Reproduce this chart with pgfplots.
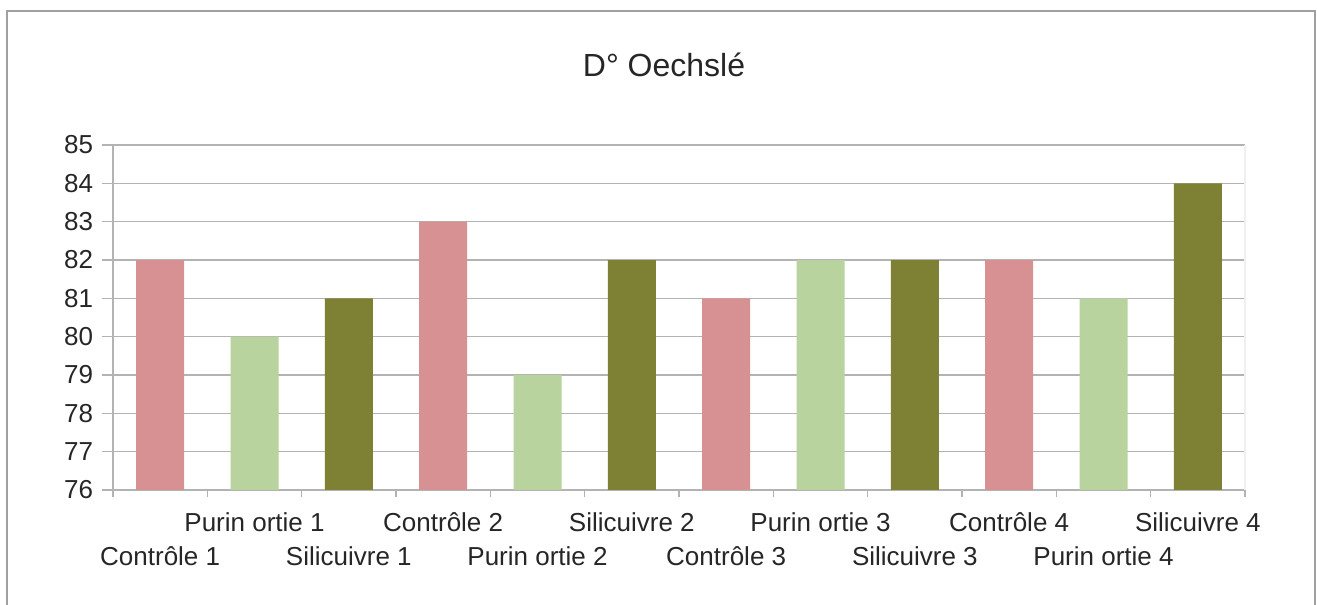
\documentclass[border=0pt]{standalone}
\usepackage{fontspec}
\setmainfont{Liberation Sans}
\usepackage{pgfplots}
\pgfplotsset{compat=1.18}
\definecolor{RosePink}{RGB}{215,145,147}
\definecolor{LeafGreen}{RGB}{185,211,158}
\definecolor{OliveDark}{RGB}{126,128,52}
\definecolor{GridGray}{RGB}{179,179,179}
\definecolor{FrameGray}{RGB}{160,160,160}

\begin{document}
\begin{tikzpicture}[x=0.4pt,y=0.4pt]
  % page = 1317 x 605 px, 1px = 0.4pt, origin at axis lower-left (113,490)
  \useasboundingbox (-113,-115) rectangle (1204,490);
  \draw[FrameGray, line width=0.8pt] (-106,-115) -- (-106,479) -- (1202,479) -- (1202,-115);
  \node[font=\fontsize{12.8}{15}\selectfont, text=black!85] at (551,425) {D° Oechslé};
  \begin{axis}[
      at={(0,0)}, anchor=south west,
      scale only axis,
      width=452.8pt, height=138pt,
      ybar, bar width=19.2pt,
      xmin=-0.5, xmax=11.5,
      ymin=76, ymax=85,
      ytick={76,...,85},
      ymajorgrids,
      grid style={GridGray, line width=0.5pt},
      axis x line*=bottom, axis y line*=left,
      axis line style={GridGray, line width=0.5pt},
      tick align=outside,
      major tick length=4.4pt,
      minor tick length=2.8pt,
      major y tick style={GridGray, line width=0.5pt},
      major x tick style={draw=none},
      minor x tick style={GridGray, line width=0.5pt},
      xtick={1,3,5,7,9,11},
      xticklabels={Purin ortie 1, Contrôle 2, Silicuivre 2, Purin ortie 3, Contrôle 4, Silicuivre 4},
      minor xtick={-0.5,0.5,...,11.5},
      extra x ticks={0,2,4,6,8,10},
      extra x tick labels={Contrôle 1, Silicuivre 1, Purin ortie 2, Contrôle 3, Silicuivre 3, Purin ortie 4},
      extra x tick style={major x tick style={draw=none}, xticklabel style={yshift=-13.6pt}},
      xticklabel style={anchor=base, yshift=-12.2pt, font=\fontsize{10.4}{12}\selectfont, text=black!85},
      yticklabel style={font=\fontsize{10.4}{12}\selectfont, text=black!85},
      /pgf/number format/assume math mode=true,
      clip=false,
    ]
    \addplot[fill=RosePink, draw=none, bar shift=0pt] coordinates {(0,82) (3,83) (6,81) (9,82)};
    \addplot[fill=LeafGreen, draw=none, bar shift=0pt] coordinates {(1,80) (4,79) (7,82) (10,81)};
    \addplot[fill=OliveDark, draw=none, bar shift=0pt] coordinates {(2,81) (5,82) (8,82) (11,84)};
    \draw[black!6, line width=0.5pt] (rel axis cs:1,0) -- (rel axis cs:1,1);
  \end{axis}
\end{tikzpicture}
\end{document}
